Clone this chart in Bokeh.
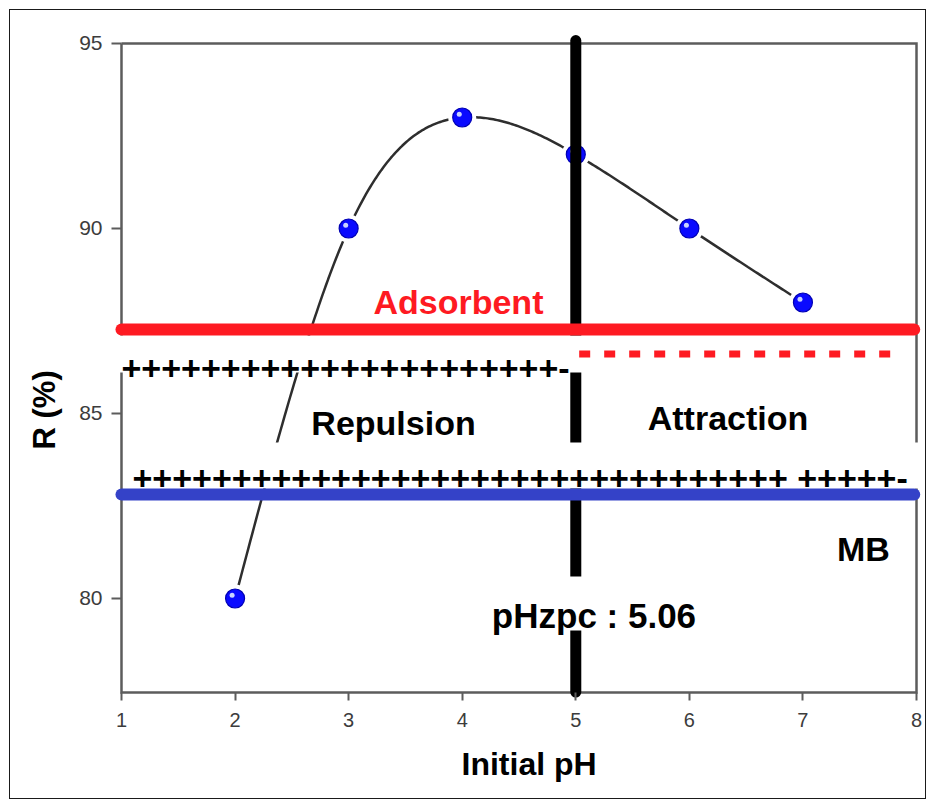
import numpy as np
from bokeh.plotting import figure
from bokeh.models import Range1d, FixedTicker, Title
from bokeh.core.properties import value
from bokeh.transform import dodge
from bokeh.embed import file_html
from bokeh.resources import INLINE

# ---------------- data ----------------
initial_ph = [2, 3, 4, 5, 6, 7]
removal_pct = [80, 90, 93, 92, 90, 88]
x_tick_values = [1, 2, 3, 4, 5, 6, 7, 8]
y_tick_values = [80, 85, 90, 95]
ph_zpc_label = "pHzpc : 5.06"
ph_zpc_position = 5.0
adsorbent_level = 87.27
adsorbent_charge_level = 86.61
mb_level = 82.81
x_title = "Initial pH"
y_title = "R (%)"
region_labels = ["Adsorbent", "Repulsion", "Attraction", "MB"]

# ---------------- styling ----------------
FONT = "Liberation Sans"
RED = "#fe1a22"
BLUE = "#3442c8"
AXIS_GREY = "#5c5c5c"

X_MIN, X_MAX = 1.0, 8.0
Y_MIN, Y_MAX = 77.46, 95.0


def natural_spline(xs, ys, n=300):
    xs = np.asarray(xs, float)
    ys = np.asarray(ys, float)
    k = len(xs)
    h = np.diff(xs)
    A = np.zeros((k, k))
    b = np.zeros(k)
    A[0, 0] = A[-1, -1] = 1.0
    for i in range(1, k - 1):
        A[i, i - 1] = h[i - 1]
        A[i, i] = 2 * (h[i - 1] + h[i])
        A[i, i + 1] = h[i]
        b[i] = 6 * ((ys[i + 1] - ys[i]) / h[i] - (ys[i] - ys[i - 1]) / h[i - 1])
    M = np.linalg.solve(A, b)
    xx = np.linspace(xs[0], xs[-1], n)
    yy = np.empty_like(xx)
    for j, x in enumerate(xx):
        i = min(np.searchsorted(xs, x, side="right") - 1, k - 2)
        t0 = xs[i + 1] - x
        t1 = x - xs[i]
        hi = h[i]
        yy[j] = (M[i] * t0 ** 3 / (6 * hi) + M[i + 1] * t1 ** 3 / (6 * hi)
                 + (ys[i] / hi - M[i] * hi / 6) * t0
                 + (ys[i + 1] / hi - M[i + 1] * hi / 6) * t1)
    return xx, yy


p = figure(width=917, height=790,
           x_range=Range1d(0.9296, 8.0704), y_range=Range1d(77.2432, 95.2432),
           output_backend="svg", toolbar_location=None,
           min_border_left=103, min_border_right=3, min_border_top=24, min_border_bottom=100,
           styles={"border": "1px solid #1a1a1a", "margin-left": "9px", "margin-top": "9px"})
p.outline_line_color = None
p.grid.visible = False
p.background_fill_color = "white"
p.border_fill_color = "white"

for ax in p.xaxis:
    ax.ticker = FixedTicker(ticks=x_tick_values)
    ax.axis_line_color = None
    ax.major_tick_line_color = AXIS_GREY
    ax.major_tick_line_width = 2
    ax.major_tick_in = 8
    ax.major_tick_out = 0
    ax.minor_tick_line_color = None
    ax.major_label_text_font = FONT
    ax.major_label_text_font_size = "20px"
    ax.major_label_text_color = "#3c3c3c"
    ax.major_label_standoff = 12
for ax in p.yaxis:
    ax.ticker = FixedTicker(ticks=y_tick_values)
    ax.axis_line_color = None
    ax.major_tick_line_color = AXIS_GREY
    ax.major_tick_line_width = 2
    ax.major_tick_in = 8
    ax.major_tick_out = 2
    ax.minor_tick_line_color = None
    ax.major_label_text_font = FONT
    ax.major_label_text_font_size = "21px"
    ax.major_label_text_color = "#3c3c3c"
    ax.major_label_standoff = 9

# axis box
p.line(x=[X_MIN, X_MAX, X_MAX, X_MIN, X_MIN], y=[Y_MAX, Y_MAX, Y_MIN, Y_MIN, Y_MAX],
       line_color=AXIS_GREY, line_width=2.5, line_join="miter")

# smooth curve through the data
cx, cy = natural_spline(initial_ph, removal_pct)
p.line(cx, cy, line_color="#2e2e2e", line_width=2.5)

# markers with white halo and highlight
src = {"x": initial_ph, "y": removal_pct}
p.scatter(x="x", y="y", source=src, size=28, fill_color="white", line_color=None)
p.scatter(x="x", y="y", source=src, size=19, fill_color="#0a0aff", line_color="#0000b4", line_width=1.2)
p.scatter(x=dodge("x", -0.026), y=dodge("y", 0.09), source=src, size=5,
          fill_color="#c9d2ff", line_color=None)

# pHzpc vertical line
p.line(x=[ph_zpc_position, ph_zpc_position], y=[77.47, 95.08],
       line_color="black", line_width=11, line_cap="round")

# white bands behind the charge rows
p.quad(left=[0.965, 1.035], right=[7.93, 8.09], bottom=[86.108, 82.973], top=[87.108, 84.216],
       fill_color="white", line_color=None)

# adsorbent and MB lines
p.line(x=[X_MIN, 7.98], y=[adsorbent_level, adsorbent_level], line_color=RED, line_width=12, line_cap="round")
p.line(x=[X_MIN, 7.98], y=[mb_level, mb_level], line_color=BLUE, line_width=12, line_cap="round")
p.line(x=[5.03, 7.886], y=[adsorbent_charge_level, adsorbent_charge_level],
       line_color=RED, line_width=7, line_dash="11 14")

# charge rows
p.text(x=[1.0, 1.097], y=[86.216, 83.27],
       text=["+" * 22 + "-", "+" * 33 + " " + "+" * 5 + "-"],
       text_font=value(FONT), text_font_style="bold", text_font_size="34px",
       text_color="black", text_align="left", text_baseline="alphabetic")

# region labels
p.text(x=[3.967], y=[88.0], text=[region_labels[0]], text_font=value(FONT), text_font_style="bold",
       text_font_size="34px", text_color=RED, text_align="center", text_baseline="alphabetic")
p.text(x=[3.395, 6.34, 7.533], y=[84.73, 84.865, 81.35], text=region_labels[1:],
       text_font=value(FONT), text_font_style="bold", text_font_size="34px",
       text_color="black", text_align="center", text_baseline="alphabetic")

# pHzpc label
p.quad(left=[4.9], right=[5.1], bottom=[79.135], top=[80.595], fill_color="white", line_color=None)
p.text(x=[5.16], y=[79.54], text=[ph_zpc_label], text_font=value(FONT), text_font_style="bold",
       text_font_size="35px", text_color="black", text_align="center", text_baseline="alphabetic")

# axis titles
p.add_layout(Title(text=y_title, align="left", offset=251, vertical_align="middle", standoff=28,
                   text_font=FONT, text_font_style="bold", text_font_size="31px",
                   text_color="black"), "left")
p.add_layout(Title(text=x_title, align="left", offset=348, vertical_align="middle", standoff=31,
                   text_font=FONT, text_font_style="bold", text_font_size="32px",
                   text_color="black"), "below")

open("out.html", "w").write(file_html(p, INLINE))
